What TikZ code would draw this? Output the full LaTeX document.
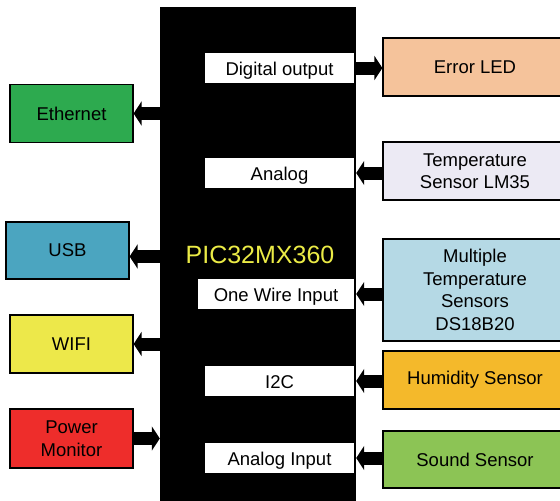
\documentclass[tikz,border=0pt]{standalone}
\usepackage{fontspec}
\setmainfont{Liberation Sans}
\usetikzlibrary{arrows.meta}

\definecolor{ethgreen}{RGB}{45,170,79}
\definecolor{usbblue}{RGB}{75,165,192}
\definecolor{wifiyellow}{RGB}{237,232,74}
\definecolor{powerred}{RGB}{238,45,43}
\definecolor{ledpeach}{RGB}{245,195,155}
\definecolor{lmlavender}{RGB}{236,234,244}
\definecolor{multiblue}{RGB}{181,217,229}
\definecolor{humidorange}{RGB}{244,185,43}
\definecolor{soundgreen}{RGB}{140,196,85}
\definecolor{picyellow}{RGB}{235,235,70}

\begin{document}
\begin{tikzpicture}[x=1pt,y=-1pt,
		every node/.style={inner sep=0pt,align=center,font=\fontsize{18.5}{22.5}\selectfont},
		block/.style={draw=black,line width=1.2pt,minimum width=123pt,minimum height=58pt},
		sensor/.style={block,minimum width=184pt},
		port/.style={fill=white,minimum width=149pt,minimum height=30pt,text height=16pt,text depth=2pt},
		bus/.style={line width=13pt,-{Triangle[length=8pt,width=24pt]}}]
		\useasboundingbox (0,0) rectangle (560,501);
		\clip (0,0) rectangle (560,501);
		% microcontroller
		\node[fill=black,minimum width=196pt,minimum height=503pt] (chip) at (258,258.5) {};
		\node[text=picyellow,font=\fontsize{25}{30}\selectfont] (pic) at (260,255) {PIC32MX360};
		\node[port] (dout) at (279.5,68) {Digital output};
		\node[port] (analog) at (279.5,173) {Analog};
		\node[port,minimum width=156pt] (onewire) at (276,294) {One Wire Input};
		\node[port] (itwoc) at (279.5,381) {I2C};
		\node[port] (ain) at (279.5,458) {Analog Input};
		% left side
		\node[block,fill=ethgreen] (eth) at (71.5,113.5) {Ethernet};
		\node[block,fill=usbblue,minimum height=57pt] (usb) at (67.5,250.5) {USB};
		\node[block,fill=wifiyellow] (wifi) at (71.5,344) {WIFI};
		\node[block,fill=powerred,minimum height=59pt] (power) at (71.5,438.5) {Power\\Monitor};
		% right side
		\node[sensor,fill=ledpeach] (led) at (475,67) {Error LED};
		\node[sensor,fill=lmlavender] (lm) at (475,171) {Temperature\\Sensor LM35};
		\node[sensor,fill=multiblue,minimum height=102pt] (multi) at (475,290) {Multiple\\Temperature\\Sensors\\DS18B20};
		\node[sensor,fill=humidorange] (humid) at (475,380) {Humidity Sensor};
		\node[sensor,fill=soundgreen,minimum height=57pt] (sound) at (475,459.5) {Sound Sensor};
		\coordinate (usbport) at ([yshift=-6pt]usb.east);
		% buses
		\draw[bus] (chip.west |- eth.east) -- (eth.east);
		\draw[bus] (chip.west |- usbport) -- (usbport);
		\draw[bus] (chip.west |- wifi.east) -- (wifi.east);
		\draw[bus] (power.east) -- (power.east -| chip.west);
		\draw[bus] (dout.east -| chip.east) -- (led.west |- dout.east);
		\draw[bus] (lm.west |- analog.east) -- (analog.east -| chip.east);
		\draw[bus] (multi.west |- onewire.east) -- (onewire.east -| chip.east);
		\draw[bus] (humid.west |- itwoc.east) -- (itwoc.east -| chip.east);
		\draw[bus] (sound.west |- ain.east) -- (ain.east -| chip.east);
\end{tikzpicture}
\end{document}
